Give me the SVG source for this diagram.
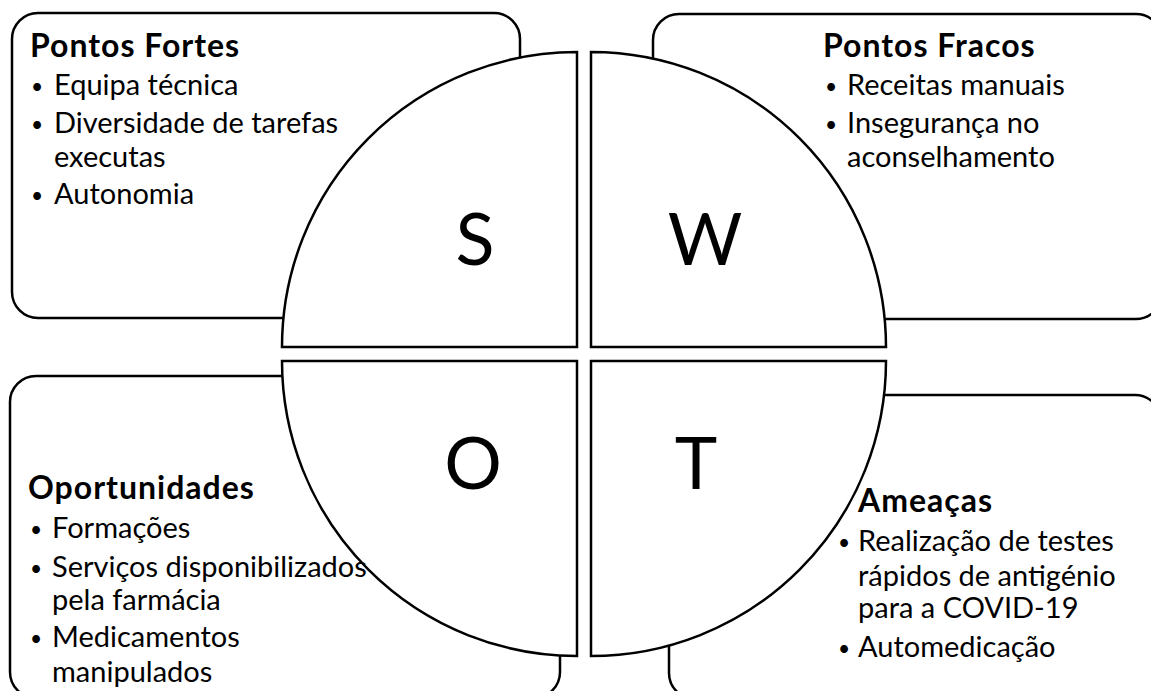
<svg xmlns="http://www.w3.org/2000/svg" width="1151" height="691" viewBox="0 0 1151 691">
<style>
.box{fill:#fff;stroke:#000;stroke-width:2.5}
.q{fill:#fff;stroke:#000;stroke-width:2.5;stroke-linejoin:miter}
text{font-family:Lato,"Open Sans","Liberation Sans",sans-serif;fill:#000}
.t{font-size:32px;font-weight:bold;letter-spacing:1px}
.b{font-size:29px}
.d{font-size:21px}
.big{font-size:72px;font-weight:normal;text-anchor:middle}
</style>
<rect width="1151" height="691" fill="#fff"/>
<g id="box-s"><rect class="box" x="12" y="13" width="508" height="305" rx="26"/></g>
<g id="box-w"><rect class="box" x="653" y="14" width="509" height="305" rx="26"/></g>
<g id="box-o"><rect class="box" x="10" y="376" width="550" height="322" rx="26"/></g>
<g id="box-t"><rect class="box" x="669" y="395" width="492" height="304" rx="26"/></g>
<g id="quarters">
<g id="q-s"><path class="q" d="M577,347 L577,52 A295,295 0 0 0 282,347 Z"/><text class="big" x="475" y="265">S</text></g>
<g id="q-w"><path class="q" d="M591,347 L591,52 A295,295 0 0 1 886,347 Z"/><text class="big" x="705" y="265">W</text></g>
<g id="q-o"><path class="q" d="M577,361 L282,361 A295,295 0 0 0 577,656 Z"/><text class="big" x="473" y="489">O</text></g>
<g id="q-t"><path class="q" d="M591,361 L591,656 A295,295 0 0 0 886,361 Z"/><text class="big" x="696" y="489">T</text></g>
</g>
<g id="text-s">
<text class="t" x="30" y="57">Pontos Fortes</text>
<text class="d" x="31" y="94">•</text><text class="b" x="54" y="95">Equipa técnica</text>
<text class="d" x="31" y="132">•</text><text class="b" x="54" y="133">Diversidade de tarefas</text>
<text class="b" x="54" y="167">executas</text>
<text class="d" x="31" y="203">•</text><text class="b" x="54" y="204">Autonomia</text>
</g>
<g id="text-w">
<text class="t" x="823" y="57">Pontos Fracos</text>
<text class="d" x="825" y="94">•</text><text class="b" x="847" y="95">Receitas manuais</text>
<text class="d" x="825" y="132">•</text><text class="b" x="847" y="133">Insegurança no</text>
<text class="b" x="847" y="167">aconselhamento</text>
</g>
<g id="text-o">
<text class="t" x="28" y="499">Oportunidades</text>
<text class="d" x="30" y="537">•</text><text class="b" x="52" y="538">Formações</text>
<text class="d" x="30" y="576">•</text><text class="b" x="52" y="577">Serviços disponibilizados</text>
<text class="b" x="52" y="610">pela farmácia</text>
<text class="d" x="30" y="646">•</text><text class="b" x="52" y="647">Medicamentos</text>
<text class="b" x="52" y="682">manipulados</text>
</g>
<g id="text-t">
<text class="t" x="858" y="512">Ameaças</text>
<text class="d" x="838" y="550">•</text><text class="b" x="858" y="551">Realização de testes</text>
<text class="b" x="858" y="586">rápidos de antigénio</text>
<text class="b" x="858" y="618">para a COVID-19</text>
<text class="d" x="838" y="656">•</text><text class="b" x="858" y="657">Automedicação</text>
</g>
</svg>
